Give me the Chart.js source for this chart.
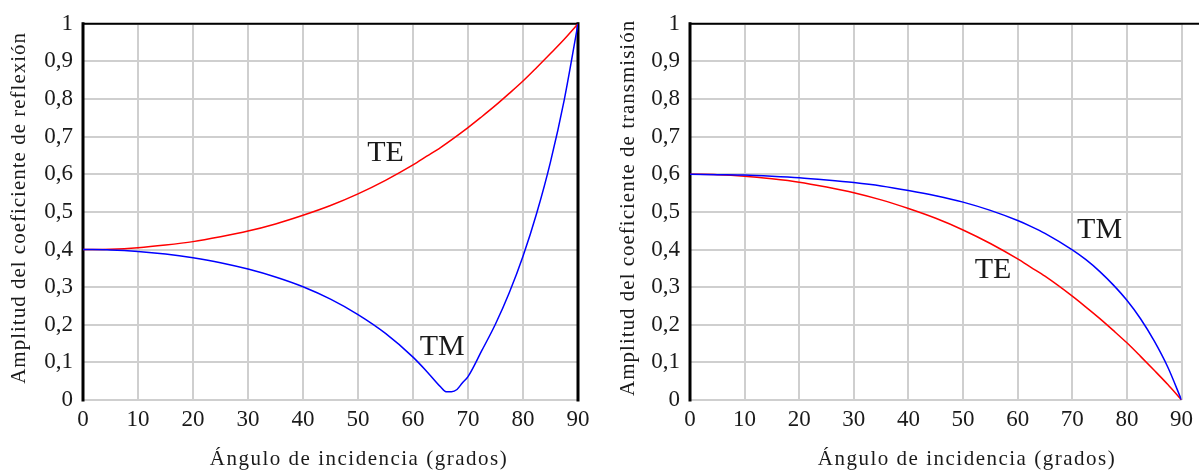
<!DOCTYPE html>
<html><head><meta charset="utf-8">
<script src="https://cdn.jsdelivr.net/npm/chart.js@4.4.1/dist/chart.umd.min.js"></script>
<style>
html,body{margin:0;padding:0;background:#fff;}
#wrap{position:relative;width:1199px;height:470px;overflow:hidden;background:#fff;}
canvas{position:absolute;top:0;}
</style></head><body>
<div id="wrap">
<canvas id="left" width="600" height="470" style="left:0"></canvas>
<canvas id="right" width="599" height="470" style="left:600px"></canvas>
</div>
<script>
// ---- data ----
const angles = [0,5,10,15,20,25,30,35,40,45,50,55,60,62.5,65,70,72.5,75,77.5,80,82.5,85,87.5,90];
const reflexTE = [0.400,0.401,0.405,0.412,0.421,0.434,0.449,0.468,0.491,0.517,0.548,0.584,0.625,0.648,0.671,0.724,0.753,0.783,0.815,0.848,0.884,0.921,0.959,1.000];
const tmAngles = [0,5,10,15,20,25,30,35,40,45,50,55,60,62.5,65,66,67,68,69,70,72.5,75,77.5,80,82.5,85,87.5,90];
const reflexTM = [0.400,0.399,0.395,0.388,0.378,0.365,0.348,0.327,0.301,0.268,0.227,0.177,0.114,0.076,0.035,0.022,0.022,0.028,0.046,0.062,0.131,0.202,0.285,0.382,0.497,0.633,0.798,1.000];
const transTE = [0.600,0.599,0.595,0.588,0.579,0.566,0.551,0.532,0.509,0.483,0.452,0.416,0.375,0.352,0.329,0.276,0.247,0.217,0.185,0.152,0.116,0.079,0.041,0.000];
const transTM = [0.600,0.599,0.598,0.595,0.591,0.585,0.578,0.569,0.557,0.543,0.526,0.504,0.477,0.461,0.443,0.399,0.373,0.342,0.306,0.265,0.216,0.157,0.087,0.000];
const xTickValues = [0,10,20,30,40,50,60,70,80,90];
const yTickValues = [0,0.1,0.2,0.3,0.4,0.5,0.6,0.7,0.8,0.9,1];
const xTitle = 'Ángulo de incidencia (grados)';
const yTitleReflex = 'Amplitud del coeficiente de reflexión';
const yTitleTrans = 'Amplitud del coeficiente de transmisión';

const SERIF = '"Liberation Serif", "Times New Roman", serif';
const INK = '#1a1a1a';

function pts(xs, ys){ return xs.map((x,i)=>({x:x, y:ys[i]})); }
function fmtY(v){ const r = Math.round(v*10)/10; return (r===0||r===1) ? String(r) : r.toFixed(1).replace('.', ','); }

const decor = {
  id: 'decor',
  beforeDatasetsDraw(chart, args, o){
    const ctx = chart.ctx, a = chart.chartArea;
    ctx.save();
    ctx.strokeStyle = '#000';
    ctx.lineCap = 'square';
    ctx.lineWidth = 3;
    ctx.beginPath(); ctx.moveTo(a.left, a.bottom); ctx.lineTo(a.left, a.top); ctx.stroke();
    ctx.lineWidth = 2;
    ctx.beginPath(); ctx.moveTo(a.left, a.top); ctx.lineTo(o.topEnd === 'canvas' ? chart.width : a.right, a.top); ctx.stroke();
    if (o.rightBorder) { ctx.lineWidth = 3; ctx.beginPath(); ctx.moveTo(a.right, a.top); ctx.lineTo(a.right, a.bottom); ctx.stroke(); }
    ctx.restore();
  },
  afterDatasetsDraw(chart, args, o){
    const ctx = chart.ctx, a = chart.chartArea;
    const xs = chart.scales.x, ys = chart.scales.y;
    ctx.save();
    ctx.fillStyle = INK;
    // curve labels
    ctx.font = '30px ' + SERIF;
    ctx.textAlign = 'center'; ctx.textBaseline = 'alphabetic';
    (o.labels||[]).forEach(l => {
      ctx.fillText(l.text, xs.getPixelForValue(l.x), ys.getPixelForValue(l.y) + 10);
    });
    // x title
    ctx.font = '21px ' + SERIF;
    ctx.letterSpacing = '1.5px';
    ctx.textBaseline = 'middle';
    ctx.fillText(xTitle, o.xTitleX, o.xTitleY);
    // y title
    ctx.font = '21px ' + SERIF;
    ctx.letterSpacing = '1px';
    ctx.translate(o.yTitleX, (a.top + a.bottom)/2 - 4);
    ctx.rotate(-Math.PI/2);
    ctx.fillText(o.yTitle, 0, 0);
    ctx.restore();
  }
};

function makeChart(id, datasets, cfg){
  return new Chart(document.getElementById(id), {
    type: 'line',
    data: { datasets: datasets },
    plugins: [decor],
    options: {
      responsive: false,
      animation: false,
      devicePixelRatio: 1,
      layout: { padding: { top: 22, right: cfg.padRight, bottom: 0, left: 0 } },
      plugins: {
        legend: { display: false },
        tooltip: { enabled: false },
        decor: cfg.decor
      },
      elements: { point: { radius: 0 }, line: { borderWidth: 1.5, cubicInterpolationMode: 'monotone' } },
      scales: {
        x: {
          type: 'linear', min: 0, max: 90,
          afterBuildTicks: s => { s.ticks = xTickValues.map(v => ({value: v})); },
          afterFit: s => { s.height = 70; },
          grid: { color: '#cfcfcf', lineWidth: 2, drawTicks: false },
          border: { display: false },
          ticks: { color: INK, font: { family: SERIF, size: 23 }, padding: 6, maxRotation: 0, autoSkip: false }
        },
        y: {
          type: 'linear', min: 0, max: 1,
          afterBuildTicks: s => { s.ticks = yTickValues.map(v => ({value: v})); },
          afterFit: s => { s.width = cfg.yWidth; },
          grid: { color: '#cfcfcf', lineWidth: 2, drawTicks: false },
          border: { display: false },
          ticks: { color: INK, font: { family: SERIF, size: 23 }, padding: 10, callback: v => fmtY(v), autoSkip: false }
        }
      }
    }
  });
}

makeChart('left', [
  { label: 'TM', data: pts(tmAngles, reflexTM), borderColor: '#0000ff', backgroundColor: '#0000ff' },
  { label: 'TE', data: pts(angles, reflexTE), borderColor: '#ff0000', backgroundColor: '#ff0000' }
], {
  padRight: 22, yWidth: 83,
  decor: {
    rightBorder: true, topEnd: 'area',
    xTitleX: 359, xTitleY: 459, yTitleX: 19, yTitle: yTitleReflex,
    labels: [ {text: 'TE', x: 55.0, y: 0.662}, {text: 'TM', x: 65.3, y: 0.145} ]
  }
});

makeChart('right', [
  { label: 'TM', data: pts(angles, transTM), borderColor: '#0000ff', backgroundColor: '#0000ff' },
  { label: 'TE', data: pts(angles, transTE), borderColor: '#ff0000', backgroundColor: '#ff0000' }
], {
  padRight: 13, yWidth: 90,
  decor: {
    rightBorder: false, topEnd: 'canvas',
    xTitleX: 367, xTitleY: 459, yTitleX: 28, yTitle: yTitleTrans,
    labels: [ {text: 'TM', x: 75.0, y: 0.457}, {text: 'TE', x: 55.5, y: 0.35} ]
  }
});
</script>
</body></html>
